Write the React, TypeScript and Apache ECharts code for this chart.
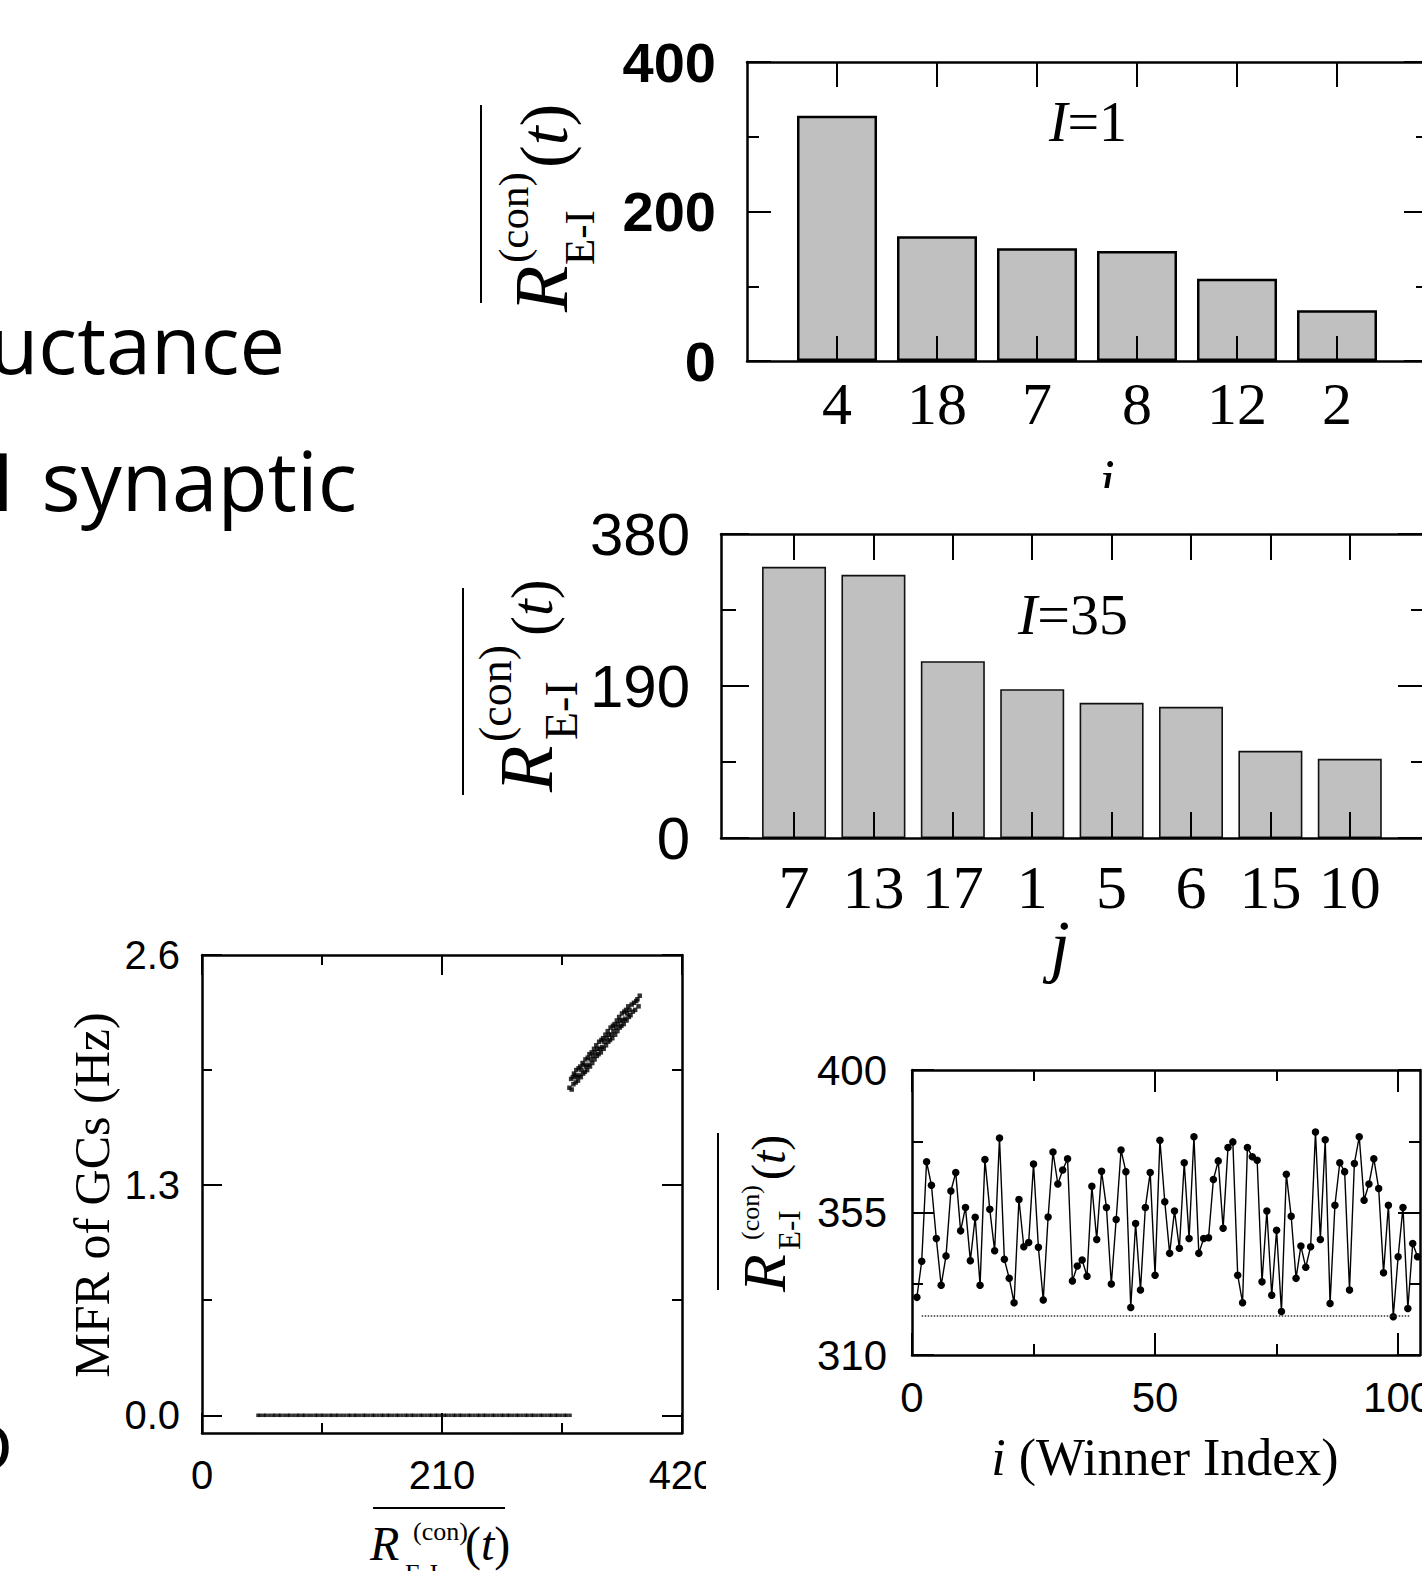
import React, { useEffect, useRef } from 'react';
import * as echarts from 'echarts';

// ---------------- data ----------------
const topCats = ['4', '18', '7', '8', '12', '2'];
const topVals = [328, 167, 151, 147, 110, 68];
const topYMajor = [0, 200, 400];
const topYMinor = [100, 300];

const midCats = ['7', '13', '17', '1', '5', '6', '15', '10'];
const midVals = [339, 329, 221, 186, 169, 164, 109, 99];
const midYMajor = [0, 190, 380];
const midYMinor = [95, 285];

const winnerR = [
  328.2, 339.6, 371.0, 363.6, 346.8, 332.0, 341.3, 361.8, 367.6, 349.2,
  356.6, 339.8, 353.5, 332.0, 371.7, 356.0, 342.9, 378.5, 340.2, 334.2,
  326.5, 359.1, 344.2, 345.5, 370.3, 344.0, 327.4, 353.6, 374.1, 364.0,
  368.4, 372.0, 333.4, 338.1, 340.0, 334.9, 363.3, 346.5, 368.0, 356.6,
  332.4, 352.8, 374.7, 367.9, 325.0, 351.5, 330.5, 356.6, 367.6, 335.2,
  377.8, 358.4, 342.1, 355.5, 343.7, 370.7, 346.8, 378.9, 342.1, 346.8,
  347.0, 365.4, 371.3, 350.0, 375.5, 377.3, 335.2, 326.5, 375.5, 372.6,
  371.5, 333.1, 355.5, 328.9, 349.4, 323.7, 367.1, 353.8, 334.2, 344.4,
  337.7, 344.2, 380.4, 346.5, 378.0, 326.3, 357.3, 370.7, 367.9, 330.5,
  370.5, 378.9, 358.9, 364.0, 372.0, 362.6, 336.0, 357.3, 322.1, 341.0,
  356.6, 324.7, 345.2, 341.0,
];
const winnerThreshold = 322.3;
const thresholdSpan = [2, 102.5];
const lineYMajor = [310, 355, 400];
const lineYMinor = [332.5, 377.5];
const lineXMajor = [0, 50, 100];
const lineXMinor = [25, 75];

const mfrZeroR = [
  49, 51, 54, 56, 59, 62, 64, 67, 69, 72, 75, 77, 80, 83, 85, 88, 90, 93, 96, 99,
  101, 104, 106, 109, 112, 114, 117, 119, 122, 125, 128, 130, 133, 135, 138, 141,
  143, 146, 149, 151, 154, 157, 159, 162, 164, 167, 170, 172, 175, 178, 180, 183,
  185, 188, 191, 193, 196, 199, 201, 204, 206, 209, 212, 214, 217, 220, 222, 225,
  227, 230, 233, 235, 238, 241, 243, 246, 248, 251, 254, 256, 259, 262, 264, 267,
  269, 272, 275, 277, 280, 283, 285, 288, 290, 293, 296, 298, 301, 304, 306, 309,
  311, 314, 317, 319, 322,
];
const mfrActive: [number, number][] = [
  [321.5, 1.85], [323, 1.9], [323.5, 1.84], [324.5, 1.91], [325, 1.87], [325.5, 1.93],
  [326.5, 1.92], [327, 1.88], [327.5, 1.95], [328, 1.91], [329, 1.89], [329.5, 1.96],
  [330, 1.92], [331, 1.97], [331.5, 1.91], [332, 1.95], [333, 1.99], [333.5, 1.93],
  [334, 1.98], [335, 1.94], [335.5, 2.01], [336, 1.97], [337, 1.95], [337.5, 2.02],
  [338, 1.98], [339, 2.04], [339.5, 1.97], [340, 2.01], [341, 2.05], [341.5, 1.99],
  [342, 2.03], [343, 2.07], [343.5, 2.01], [344, 2.05], [345, 2.09], [345.5, 2.03],
  [346, 2.07], [347, 2.04], [347.5, 2.11], [348, 2.07], [349, 2.05], [349.5, 2.12],
  [350, 2.08], [351, 2.13], [351.5, 2.07], [352, 2.11], [353, 2.15], [353.5, 2.09],
  [354, 2.13], [355, 2.17], [355.5, 2.11], [356, 2.15], [357, 2.12], [357.5, 2.19],
  [358, 2.15], [359, 2.13], [359.5, 2.2], [360, 2.17], [361, 2.21], [361.5, 2.15],
  [362, 2.19], [363, 2.23], [363.5, 2.17], [364, 2.21], [365, 2.25], [365.5, 2.19],
  [366, 2.23], [367, 2.2], [367.5, 2.27], [368, 2.23], [369, 2.21], [369.5, 2.28],
  [370, 2.24], [371, 2.29], [371.5, 2.23], [372, 2.27], [373, 2.31], [373.5, 2.25],
  [374, 2.29], [375, 2.26], [376, 2.32], [377, 2.28], [378, 2.33], [379, 2.29],
  [380, 2.34], [381, 2.35], [382, 2.31], [383, 2.37],
];
const scatXMajor = [0, 210, 420];
const scatXMinor = [105, 315];
const scatYMajor = [0, 1.3, 2.6];
const scatYMinor = [0.65, 1.95];

// ---------------- helpers ----------------
const SANS = "'Liberation Sans', Arial, sans-serif";
const SERIF = "'Liberation Serif', 'Times New Roman', serif";
const UI = "'Open Sans', 'Noto Sans', sans-serif";

type AxSpec = {
  grid: number;
  min: number;
  max: number;
  major: number[];
  minor: number[];
  majLen: number;
  minLen: number;
  label: any;
};

function buildAxes(dim: 'x' | 'y', s: AxSpec, list: any[]): number {
  const sides = dim === 'x' ? ['bottom', 'top'] : ['left', 'right'];
  const mainIndex = list.length;
  const tickStyle = { color: '#000', width: 2 };
  sides.forEach((pos, si) => {
    list.push({
      type: 'value',
      gridIndex: s.grid,
      position: pos,
      min: s.min,
      max: s.max,
      z: 10,
      axisLine: { show: true, onZero: false, lineStyle: { color: '#000', width: 2.5 } },
      axisTick: { show: true, inside: true, length: s.majLen, customValues: s.major, lineStyle: tickStyle },
      axisLabel: si === 0 ? { show: true, color: '#000', customValues: s.major, ...s.label } : { show: false },
      splitLine: { show: false },
      minorTick: { show: false },
    });
    if (s.minor.length) {
      list.push({
        type: 'value',
        gridIndex: s.grid,
        position: pos,
        min: s.min,
        max: s.max,
        z: 10,
        axisLine: { show: false, onZero: false },
        axisTick: { show: true, inside: true, length: s.minLen, customValues: s.minor, lineStyle: tickStyle },
        axisLabel: { show: false },
        splitLine: { show: false },
      });
    }
  });
  return mainIndex;
}

const mid = (base: number, size: number) => base - 0.3375 * size;

function txt(x: number, base: number, size: number, text: string, italic: boolean, rich?: any) {
  return {
    type: 'text',
    x,
    y: mid(base, size),
    style: {
      text,
      fontFamily: SERIF,
      fontSize: size,
      fontStyle: italic ? 'italic' : 'normal',
      fill: '#000',
      align: 'left',
      textAlign: 'left',
      verticalAlign: 'middle',
      textVerticalAlign: 'middle',
      rich,
    },
  };
}

function formula(o: {
  x: number; y: number; rot: number; R: number; sup: number; sub: number; T: number;
  supX: number; supB: number; subX: number; subB: number; tX: number;
  olY: number; olX0: number; olX1: number;
}) {
  return {
    type: 'group',
    x: o.x,
    y: o.y,
    rotation: o.rot,
    children: [
      txt(0, 0, o.R, 'R', true),
      txt(o.supX, o.supB, o.sup, '(con)', false),
      txt(o.subX, o.subB, o.sub, 'E-I', false),
      txt(o.tX, 0, o.T, '({it|t})', false, { it: { fontStyle: 'italic', fontSize: o.T, fontFamily: SERIF } }),
      { type: 'line', shape: { x1: o.olX0, y1: o.olY, x2: o.olX1, y2: o.olY }, style: { stroke: '#000', lineWidth: 2 } },
    ],
  };
}

function plainText(x: number, y: number, text: string, size: number, family: string, align: string, extra: any = {}) {
  return {
    type: 'text',
    x,
    y,
    z: 50,
    ...extra.el,
    style: {
      text,
      fontFamily: family,
      fontSize: size,
      fill: '#000',
      align,
      textAlign: align,
      verticalAlign: 'middle',
      textVerticalAlign: 'middle',
      ...extra.style,
    },
  };
}

export default function App() {
  const ref = useRef<HTMLDivElement>(null);

  useEffect(() => {
    if (!ref.current) return;
    const chart = echarts.init(ref.current, undefined, { renderer: 'svg' });

    const grids = [
      { left: 747, top: 62, width: 681, height: 299 }, // top bars
      { left: 721, top: 534, width: 705, height: 304 }, // middle bars
      { left: 202, top: 955, width: 480, height: 478 }, // scatter
      { left: 912, top: 1070, width: 508, height: 285 }, // line
    ].map((g) => ({ ...g, show: false, containLabel: false, outerBoundsMode: 'none' }));

    const xAxes: any[] = [];
    const yAxes: any[] = [];

    const topX = buildAxes('x', {
      grid: 0, min: -0.9, max: 5.91, major: topCats.map((_, i) => i), minor: [], majLen: 25, minLen: 0,
      label: { fontFamily: SERIF, fontSize: 60, margin: 13, formatter: (v: number) => topCats[Math.round(v)] },
    }, xAxes);
    const topY = buildAxes('y', {
      grid: 0, min: 0, max: 400, major: topYMajor, minor: topYMinor, majLen: 24, minLen: 12,
      label: { fontFamily: SANS, fontSize: 56, fontWeight: 'bold', margin: 31 },
    }, yAxes);

    const midX = buildAxes('x', {
      grid: 1, min: -0.92, max: 7.96, major: midCats.map((_, i) => i), minor: [], majLen: 26, minLen: 0,
      label: { fontFamily: SERIF, fontSize: 62, margin: 18, formatter: (v: number) => midCats[Math.round(v)] },
    }, xAxes);
    const midY = buildAxes('y', {
      grid: 1, min: 0, max: 380, major: midYMajor, minor: midYMinor, majLen: 28, minLen: 15,
      label: { fontFamily: SANS, fontSize: 60, margin: 31 },
    }, yAxes);

    const scX = buildAxes('x', {
      grid: 2, min: 0, max: 420, major: scatXMajor, minor: scatXMinor, majLen: 20, minLen: 10,
      label: { fontFamily: SANS, fontSize: 40, margin: 22 },
    }, xAxes);
    const scY = buildAxes('y', {
      grid: 2, min: -0.1, max: 2.6, major: scatYMajor, minor: scatYMinor, majLen: 20, minLen: 10,
      label: { fontFamily: SANS, fontSize: 40, margin: 22, formatter: (v: number) => v.toFixed(1) },
    }, yAxes);

    const lnX = buildAxes('x', {
      grid: 3, min: 0, max: 104.5, major: lineXMajor, minor: lineXMinor, majLen: 22, minLen: 11,
      label: { fontFamily: SANS, fontSize: 42, margin: 21 },
    }, xAxes);
    const lnY = buildAxes('y', {
      grid: 3, min: 310, max: 400, major: lineYMajor, minor: lineYMinor, majLen: 22, minLen: 11,
      label: { fontFamily: SANS, fontSize: 42, margin: 25 },
    }, yAxes);

    const graphic: any[] = [
      plainText(285, 342, 'uctance', 81, UI, 'right'),
      plainText(-8, 479, 'I', 81, UI, 'left'),
      plainText(357, 479, 'synaptic', 82, UI, 'right'),
      plainText(13, 1437, 'o', 80, UI, 'right'),
      plainText(1088, 122, '{i|I}=1', 56, SERIF, 'center', { style: { rich: { i: { fontStyle: 'italic', fontSize: 56, fontFamily: SERIF } } } }),
      plainText(1073, 614, '{i|I}=35', 58, SERIF, 'center', { style: { rich: { i: { fontStyle: 'italic', fontSize: 58, fontFamily: SERIF } } } }),
      plainText(1107, 480, 'i', 56, SERIF, 'center', { style: { fontStyle: 'italic' } }),
      { type: 'rect', z: 60, shape: { x: 1080, y: 488, width: 55, height: 20 }, style: { fill: '#fff' } },
      plainText(1060, 945, 'j', 70, SERIF, 'center', { style: { fontStyle: 'italic' } }),
      plainText(92, 1195, 'MFR of GCs (Hz)', 50, SERIF, 'center', { el: { rotation: Math.PI / 2 } }),
      plainText(1165, 1457, '{i|i} (Winner Index)', 52, SERIF, 'center', { style: { rich: { i: { fontStyle: 'italic', fontSize: 52, fontFamily: SERIF } } } }),
      { type: 'rect', z: 60, shape: { x: 706, y: 1448, width: 60, height: 55 }, style: { fill: '#fff' } },
      formula({ x: 567, y: 312, rot: Math.PI / 2, R: 76, sup: 43, sub: 43, T: 68, supX: 49, supB: -39, subX: 47, subB: 27, tX: 144, olY: -86, olX0: 9, olX1: 207 }),
      formula({ x: 552, y: 792, rot: Math.PI / 2, R: 76, sup: 46, sub: 46, T: 60, supX: 50, supB: -41, subX: 52, subB: 25, tX: 156, olY: -89, olX0: -3, olX1: 204 }),
      formula({ x: 785, y: 1292, rot: Math.PI / 2, R: 62, sup: 26, sub: 31, T: 48, supX: 52, supB: -26, subX: 42, subB: 15, tX: 112, olY: -67, olX0: 2, olX1: 159 }),
      formula({ x: 370, y: 1560, rot: 0, R: 48, sup: 26, sub: 26, T: 48, supX: 43, supB: -20, subX: 35, subB: 22, tX: 95, olY: -52, olX0: 3, olX1: 135 }),
    ];

    chart.setOption({
      animation: false,
      backgroundColor: '#fff',
      grid: grids,
      xAxis: xAxes,
      yAxis: yAxes,
      graphic: { elements: graphic },
      series: [
        {
          type: 'bar',
          xAxisIndex: topX,
          yAxisIndex: topY,
          barWidth: 80,
          data: topVals.map((v, i) => [i, v]),
          itemStyle: { color: '#c0c0c0', borderColor: '#000', borderWidth: 2.5 },
        },
        {
          type: 'bar',
          xAxisIndex: midX,
          yAxisIndex: midY,
          barWidth: 64,
          data: midVals.map((v, i) => [i, v]),
          itemStyle: { color: '#c0c0c0', borderColor: '#111', borderWidth: 1.6 },
        },
        {
          type: 'scatter',
          xAxisIndex: scX,
          yAxisIndex: scY,
          symbol: 'rect',
          symbolSize: 3.5,
          data: mfrZeroR.map((r) => [r, 0]),
          itemStyle: { color: '#000' },
        },
        {
          type: 'scatter',
          xAxisIndex: scX,
          yAxisIndex: scY,
          symbol: 'rect',
          symbolSize: 4.5,
          data: mfrActive,
          itemStyle: { color: '#000' },
        },
        {
          type: 'line',
          xAxisIndex: lnX,
          yAxisIndex: lnY,
          data: winnerR.map((v, i) => [i + 1, v]),
          symbol: 'circle',
          symbolSize: 7.5,
          lineStyle: { color: '#000', width: 1.4 },
          itemStyle: { color: '#000' },
          markLine: {
            silent: true,
            symbol: 'none',
            label: { show: false },
            lineStyle: { color: '#333', type: 'dotted', width: 1.5 },
            data: [[{ coord: [thresholdSpan[0], winnerThreshold] }, { coord: [thresholdSpan[1], winnerThreshold] }]],
          },
        },
      ],
    });

    return () => chart.dispose();
  }, []);

  return (
    <div
      ref={ref}
      style={{ position: 'absolute', left: 0, top: 0, width: 1422, height: 1571, background: '#fff' }}
    />
  );
}
